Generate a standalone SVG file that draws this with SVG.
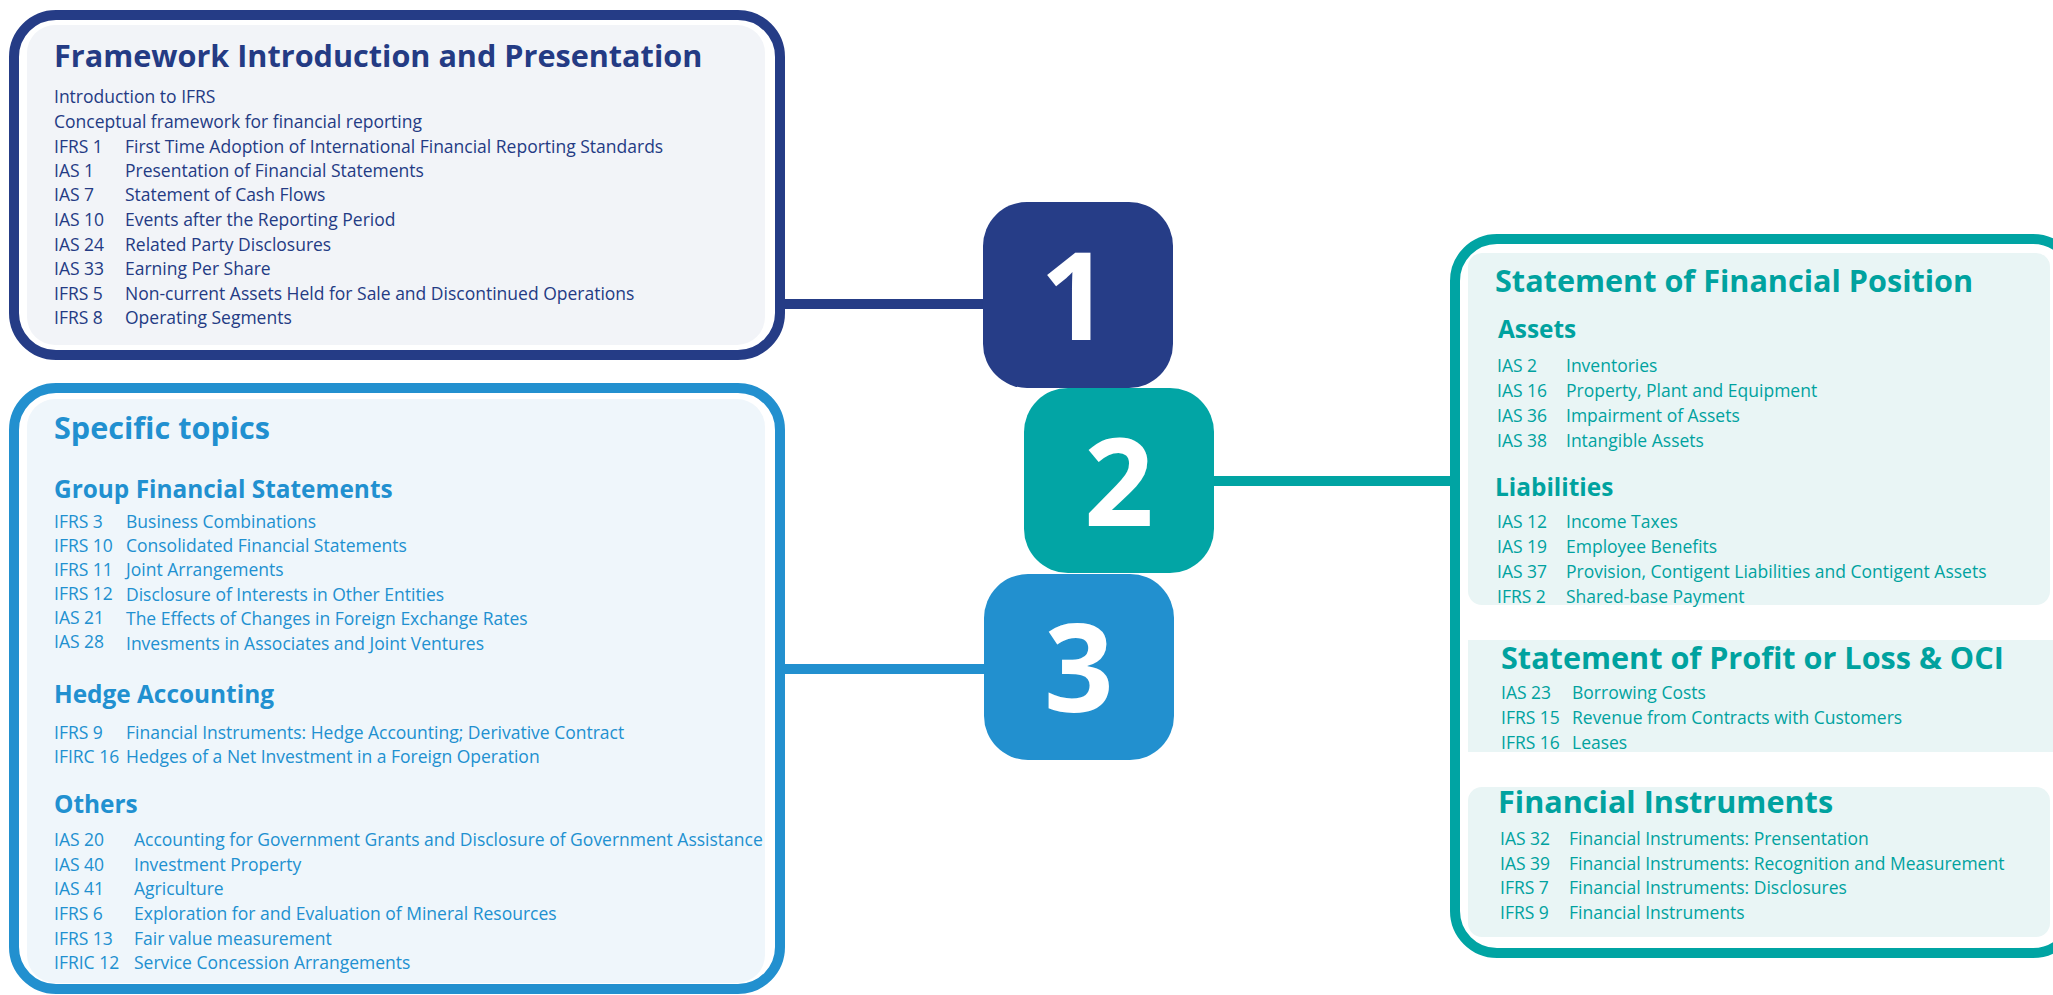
<svg xmlns="http://www.w3.org/2000/svg" width="2053" height="995" viewBox="0 0 2053 995">
<style>
text{font-family:"Open Sans","Liberation Sans",sans-serif}
.t1{fill:#243b84}.t2{fill:#00a29f}.t3{fill:#2190d0}
.h{font-weight:700;font-size:30.6px}
.s{font-weight:700;font-size:24.4px}
.b{font-size:17.5px}
.num{font-family:"Open Sans","Liberation Sans",sans-serif;font-weight:700;font-size:122px;fill:#fff;text-anchor:middle}
.con{fill:none;stroke-width:10}
</style>
<rect width="2053" height="995" fill="#fff"/>
<g id="connectors">
<line class="con" x1="780" y1="304" x2="990" y2="304" stroke="#253c86"/>
<line class="con" x1="1205" y1="481" x2="1455" y2="481" stroke="#00a4a3"/>
<line class="con" x1="780" y1="669" x2="990" y2="669" stroke="#2290cf"/>
</g>
<g id="box1">
<rect x="14" y="15" width="766" height="340" rx="42" fill="#fff" stroke="#253c86" stroke-width="10"/>
<rect x="27" y="25" width="738" height="320" rx="28" fill="#f2f4f8"/>
<text class="t1 h" x="54" y="67">Framework Introduction and Presentation</text>
<g class="t1 b">
<text x="54" y="103">Introduction to IFRS</text>
<text x="54" y="128">Conceptual framework for financial reporting</text>
<text x="54" y="153">IFRS 1</text><text x="125" y="153">First Time Adoption of International Financial Reporting Standards</text>
<text x="54" y="177">IAS 1</text><text x="125" y="177">Presentation of Financial Statements</text>
<text x="54" y="201">IAS 7</text><text x="125" y="201">Statement of Cash Flows</text>
<text x="54" y="226">IAS 10</text><text x="125" y="226">Events after the Reporting Period</text>
<text x="54" y="251">IAS 24</text><text x="125" y="251">Related Party Disclosures</text>
<text x="54" y="275">IAS 33</text><text x="125" y="275">Earning Per Share</text>
<text x="54" y="300">IFRS 5</text><text x="125" y="300">Non-current Assets Held for Sale and Discontinued Operations</text>
<text x="54" y="324">IFRS 8</text><text x="125" y="324">Operating Segments</text>
</g>
</g>
<g id="box3">
<rect x="14" y="388" width="766" height="601" rx="42" fill="#fff" stroke="#2290cf" stroke-width="10"/>
<rect x="27" y="399" width="738" height="584" rx="28" fill="#eff6fb"/>
<text class="t3 h" x="54" y="439">Specific topics</text>
<text class="t3 s" x="54" y="498">Group Financial Statements</text>
<text class="t3 s" x="54" y="703">Hedge Accounting</text>
<text class="t3 s" x="54" y="813">Others</text>
<g class="t3 b">
<text x="54" y="528">IFRS 3</text><text x="126" y="528">Business Combinations</text>
<text x="54" y="552">IFRS 10</text><text x="126" y="552">Consolidated Financial Statements</text>
<text x="54" y="576">IFRS 11</text><text x="126" y="576">Joint Arrangements</text>
<text x="54" y="600">IFRS 12</text><text x="126" y="601">Disclosure of Interests in Other Entities</text>
<text x="54" y="624">IAS 21</text><text x="126" y="625">The Effects of Changes in Foreign Exchange Rates</text>
<text x="54" y="648">IAS 28</text><text x="126" y="650">Invesments in Associates and Joint Ventures</text>
<text x="54" y="739">IFRS 9</text><text x="126" y="739">Financial Instruments: Hedge Accounting; Derivative Contract</text>
<text x="54" y="763">IFIRC 16</text><text x="126" y="763">Hedges of a Net Investment in a Foreign Operation</text>
<text x="54" y="846">IAS 20</text><text x="134" y="846">Accounting for Government Grants and Disclosure of Government Assistance</text>
<text x="54" y="871">IAS 40</text><text x="134" y="871">Investment Property</text>
<text x="54" y="895">IAS 41</text><text x="134" y="895">Agriculture</text>
<text x="54" y="920">IFRS 6</text><text x="134" y="920">Exploration for and Evaluation of Mineral Resources</text>
<text x="54" y="945">IFRS 13</text><text x="134" y="945">Fair value measurement</text>
<text x="54" y="969">IFRIC 12</text><text x="134" y="969">Service Concession Arrangements</text>
</g>
</g>
<g id="box2">
<rect x="1455" y="239" width="620" height="714" rx="42" fill="#fff" stroke="#00a4a3" stroke-width="10"/>
<rect x="1468" y="253" width="582" height="352" rx="14" fill="#e9f5f5"/>
<rect x="1468" y="640" width="585" height="112" fill="#e9f5f5"/>
<rect x="1468" y="787" width="582" height="150" rx="14" fill="#e9f5f5"/>
<text class="t2 h" x="1495" y="292">Statement of Financial Position</text>
<text class="t2 s" x="1498" y="338">Assets</text>
<text class="t2 s" x="1495" y="496">Liabilities</text>
<text class="t2 h" x="1501" y="669">Statement of Profit or Loss &amp; OCI</text>
<text class="t2 h" x="1498" y="813">Financial Instruments</text>
<g class="t2 b">
<text x="1497" y="372">IAS 2</text><text x="1566" y="372">Inventories</text>
<text x="1497" y="397">IAS 16</text><text x="1566" y="397">Property, Plant and Equipment</text>
<text x="1497" y="422">IAS 36</text><text x="1566" y="422">Impairment of Assets</text>
<text x="1497" y="447">IAS 38</text><text x="1566" y="447">Intangible Assets</text>
<text x="1497" y="528">IAS 12</text><text x="1566" y="528">Income Taxes</text>
<text x="1497" y="553">IAS 19</text><text x="1566" y="553">Employee Benefits</text>
<text x="1497" y="578">IAS 37</text><text x="1566" y="578">Provision, Contigent Liabilities and Contigent Assets</text>
<text x="1497" y="603">IFRS 2</text><text x="1566" y="603">Shared-base Payment</text>
<text x="1501" y="699">IAS 23</text><text x="1572" y="699">Borrowing Costs</text>
<text x="1501" y="724">IFRS 15</text><text x="1572" y="724">Revenue from Contracts with Customers</text>
<text x="1501" y="749">IFRS 16</text><text x="1572" y="749">Leases</text>
<text x="1500" y="845">IAS 32</text><text x="1569" y="845">Financial Instruments: Prensentation</text>
<text x="1500" y="870">IAS 39</text><text x="1569" y="870">Financial Instruments: Recognition and Measurement</text>
<text x="1500" y="894">IFRS 7</text><text x="1569" y="894">Financial Instruments: Disclosures</text>
<text x="1500" y="919">IFRS 9</text><text x="1569" y="919">Financial Instruments</text>
</g>
</g>
<g id="node1">
<rect x="983" y="202" width="190" height="186" rx="44" fill="#263d87"/>
<text class="num" x="1075" y="340">1</text>
</g>
<g id="node2">
<rect x="1024" y="388" width="190" height="185" rx="44" fill="#02a5a5"/>
<text class="num" x="1119" y="526">2</text>
</g>
<g id="node3">
<rect x="984" y="574" width="190" height="186" rx="44" fill="#2290cf"/>
<text class="num" x="1079" y="712">3</text>
</g>
</svg>
